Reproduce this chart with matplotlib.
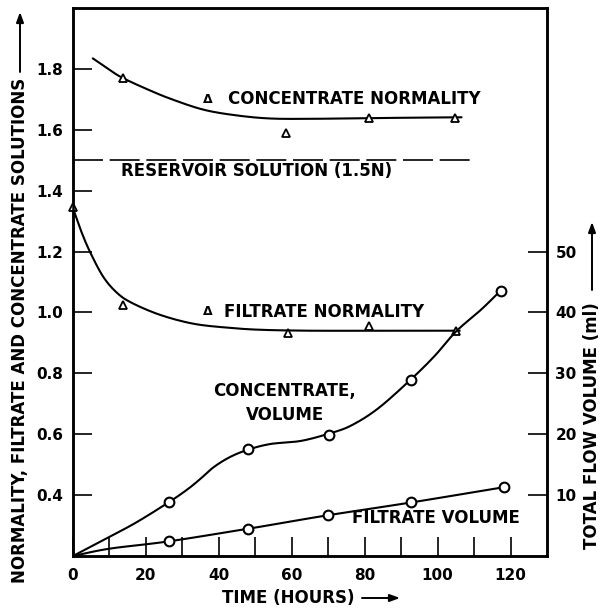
import matplotlib
matplotlib.use("Agg")
import matplotlib.pyplot as plt
import numpy as np

# ---- data ----
# Concentrate normality (triangles, left axis)
conc_norm_t = [13.8, 58.5, 81.2, 104.7]
conc_norm_n = [1.77, 1.59, 1.64, 1.64]
# hand-drawn curve through concentrate normality (traced)
conc_norm_curve_t = [5.5, 10, 13.5, 20, 26.7, 35.8, 45, 54.2, 65, 80, 95, 106.5]
conc_norm_curve_n = [1.834, 1.797, 1.771, 1.735, 1.702, 1.666, 1.647, 1.637, 1.636, 1.638, 1.640, 1.641]

# Filtrate normality (triangles, left axis)
filt_norm_t = [0.0, 13.8, 58.9, 81.3, 105.0]
filt_norm_n = [1.345, 1.025, 0.932, 0.957, 0.939]
filt_norm_curve_t = [0, 2.3, 4.7, 8.3, 12.1, 16.2, 23.9, 33, 42.4, 51.5, 65, 80, 95, 106]
filt_norm_curve_n = [1.342, 1.265, 1.198, 1.117, 1.064, 1.031, 0.992, 0.963, 0.950, 0.943, 0.940, 0.940, 0.940, 0.940]

# Reservoir solution
reservoir_n = 1.5
reservoir_t = [0, 110]

# Concentrate volume (circles, right axis, ml)
conc_vol_t = [26.2, 47.9, 70.2, 92.6, 117.4]
conc_vol_ml = [8.8, 17.5, 19.9, 28.9, 43.6]
conc_vol_curve_t = [0, 10.2, 17.6, 26.2, 31.3, 35, 38.6, 43.2, 48.2, 54.2, 62.5, 70.2, 76.2, 83.6, 92.5, 99.1, 105.1, 112, 117.3]
conc_vol_curve_ml = [0, 3.2, 5.6, 8.8, 10.9, 12.7, 14.6, 16.3, 17.5, 18.4, 18.9, 20.1, 21.4, 24.2, 28.9, 32.8, 36.9, 40.5, 43.6]

# Filtrate volume (circles, right axis, ml)
filt_vol_t = [26.2, 47.9, 70.0, 92.8, 118.2]
filt_vol_ml = [2.45, 4.4, 6.7, 8.8, 11.3]
filt_vol_curve_t = [0, 10, 26.2, 48.2, 54.2, 70, 92.8, 118.2]
filt_vol_curve_ml = [0, 1.2, 2.4, 4.5, 5.1, 6.7, 8.8, 11.3]

left_ticks = [0.4, 0.6, 0.8, 1.0, 1.2, 1.4, 1.6, 1.8]
left_ticklabels = ["0.4", "0.6", "0.8", "1.0", "1.2", "1.4", "1.6", "1.8"]
right_ticks = [10, 20, 30, 40, 50]
x_major = [0, 20, 40, 60, 80, 100, 120]
x_minor = [10, 30, 50, 70, 90, 110]

plt.rcParams['font.family'] = ['DejaVu Sans']


def smooth(xs, ys, n=12):
    """Catmull-Rom rendering of a traced hand-drawn curve (drawing only)."""
    p = np.column_stack([xs, ys]).astype(float)
    p = np.vstack([2 * p[0] - p[1], p, 2 * p[-1] - p[-2]])
    out = []
    for i in range(1, len(p) - 2):
        p0, p1, p2, p3 = p[i - 1], p[i], p[i + 1], p[i + 2]
        for t in np.linspace(0, 1, n, endpoint=False):
            t2, t3 = t * t, t * t * t
            out.append(0.5 * ((2 * p1) + (-p0 + p2) * t + (2 * p0 - 5 * p1 + 4 * p2 - p3) * t2
                              + (-p0 + 3 * p1 - 3 * p2 + p3) * t3))
    out.append(p[-2])
    out = np.array(out)
    return out[:, 0], out[:, 1]


fig = plt.figure(figsize=(6.05, 6.10), dpi=100)
ax = fig.add_axes([73/605, 1-556/610, (547-73)/605, (556-8)/610])
ax2 = ax.twinx()

ax.set_xlim(0, 130)
ax.set_ylim(0.2, 2.0)
ax2.set_ylim(0, 90)

lw = 1.5
ax.plot(*smooth(conc_norm_curve_t, conc_norm_curve_n), color='black', lw=lw)
ax.plot(conc_norm_t, conc_norm_n, ls='none', marker='^', ms=6, mfc='white', mec='black', mew=1.3)
ax.plot(*smooth(filt_norm_curve_t, filt_norm_curve_n), color='black', lw=lw)
ax.plot(filt_norm_t, filt_norm_n, ls='none', marker='^', ms=6, mfc='white', mec='black', mew=1.3,
        clip_on=False, zorder=5)
ax.plot(reservoir_t, [reservoir_n, reservoir_n], color='black', lw=1.2, dashes=(18, 4))

ax2.plot(*smooth(conc_vol_curve_t, conc_vol_curve_ml), color='black', lw=lw)
ax2.plot(conc_vol_t, conc_vol_ml, ls='none', marker='o', ms=7, mfc='white', mec='black', mew=1.5)
ax2.plot(*smooth(filt_vol_curve_t, filt_vol_curve_ml), color='black', lw=lw)
ax2.plot(filt_vol_t, filt_vol_ml, ls='none', marker='o', ms=7, mfc='white', mec='black', mew=1.5)

# ticks
ax.set_xticks(x_major)
ax.set_xticks(x_minor, minor=True)
ax.set_xticklabels([str(v) for v in x_major])
ax.set_yticks(left_ticks)
ax.set_yticklabels(left_ticklabels)
ax2.set_yticks(right_ticks)
ax2.set_yticklabels([str(v) for v in right_ticks])

for lab in ax.get_xticklabels() + ax.get_yticklabels() + ax2.get_yticklabels():
    lab.set_fontsize(11)
    lab.set_fontweight('bold')

ax.tick_params(axis='x', which='both', direction='in', length=14, width=1.2, pad=9, top=False)
ax.tick_params(axis='y', which='both', direction='in', length=14, width=1.2, pad=7, left=True, right=False)
ax2.tick_params(axis='y', which='both', direction='in', length=14, width=1.2, pad=6)

for a in (ax, ax2):
    for s in a.spines.values():
        s.set_linewidth(1.8)

# in-plot labels
txt = dict(fontsize=12, fontweight='bold')
ax.text(37, 1.70, "Δ", fontsize=9, fontweight='bold', ha='center', va='center')
ax.text(42.4, 1.70, "CONCENTRATE NORMALITY", ha='left', va='center', **txt)
ax.text(50.4, 1.465, "RESERVOIR SOLUTION (1.5N)", ha='center', va='center', **txt)
ax.text(37, 1.003, "Δ", fontsize=9, fontweight='bold', ha='center', va='center')
ax.text(41.3, 1.003, "FILTRATE NORMALITY", ha='left', va='center', **txt)
ax.text(58.1, 0.703, "CONCENTRATE,\nVOLUME", ha='center', va='center', linespacing=1.38, **txt)
ax.text(99.6, 0.325, "FILTRATE VOLUME", ha='center', va='center', **txt)

# axis labels (text + long arrows)
def fx(px):
    return px / 605

def fy(py):
    return 1 - py / 610

lab = dict(fontsize=12, fontweight='bold')
fig.text(fx(288), fy(598), "TIME (HOURS)", ha='center', va='center', **lab)
fig.text(fx(20), fy(330), "NORMALITY, FILTRATE AND CONCENTRATE SOLUTIONS", rotation=90,
         ha='center', va='center', **lab)
fig.text(fx(592), fy(426), "TOTAL FLOW VOLUME (ml)", rotation=90, ha='center', va='center', **lab)

arrow = dict(arrowstyle='-|>,head_length=0.6,head_width=0.22', color='black', lw=1.4,
             shrinkA=0, shrinkB=0)
ax.annotate("", xy=(fx(400), fy(598)), xytext=(fx(362), fy(598)), xycoords='figure fraction',
            textcoords='figure fraction', arrowprops=arrow, annotation_clip=False)
ax.annotate("", xy=(fx(20), fy(12)), xytext=(fx(20), fy(72)), xycoords='figure fraction',
            textcoords='figure fraction', arrowprops=arrow, annotation_clip=False)
ax.annotate("", xy=(fx(592), fy(222)), xytext=(fx(592), fy(290)), xycoords='figure fraction',
            textcoords='figure fraction', arrowprops=arrow, annotation_clip=False)

fig.savefig("out.png", dpi=100)
